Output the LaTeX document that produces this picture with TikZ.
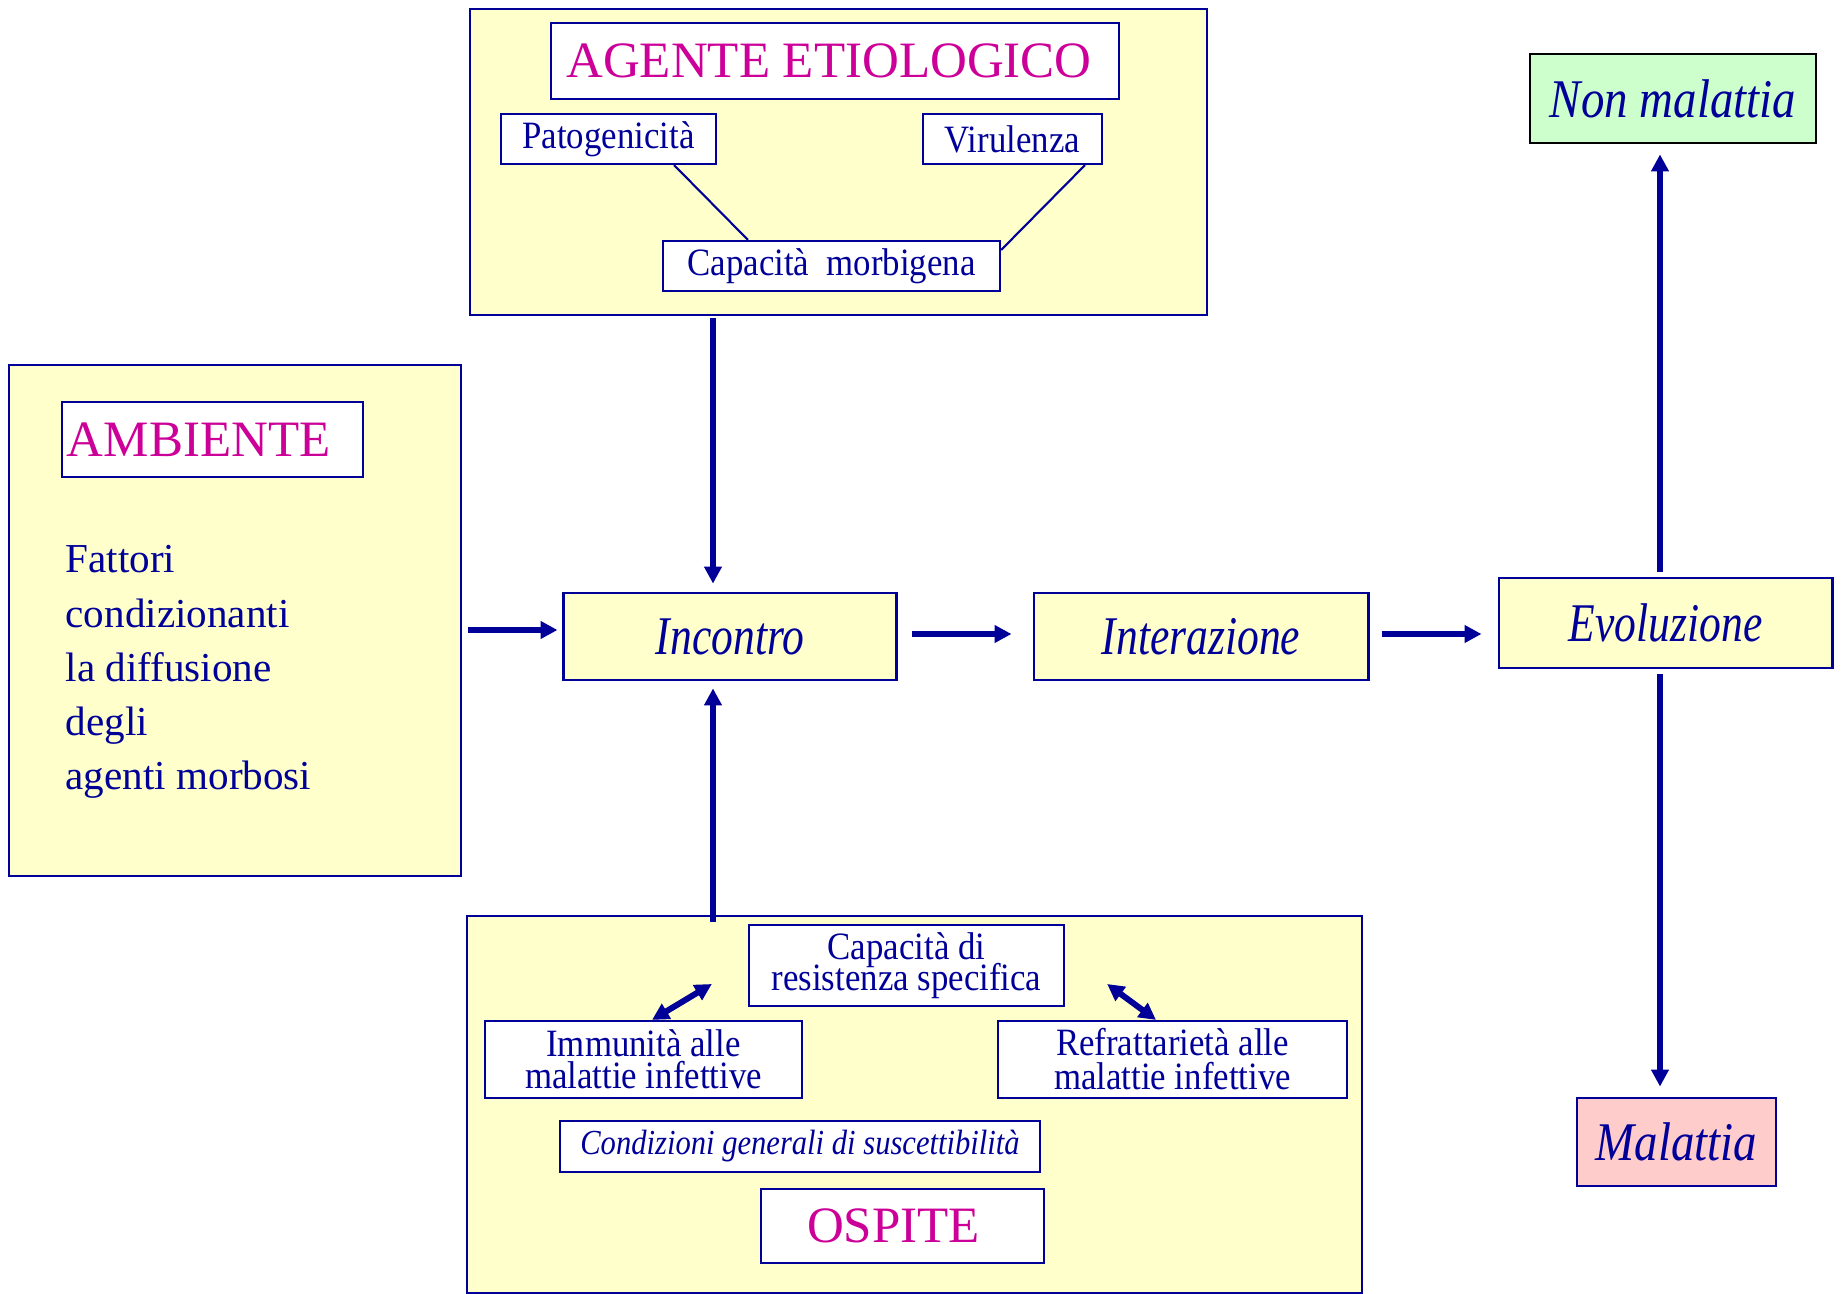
\documentclass[tikz,border=0pt]{standalone}
\usepackage{fontspec}
\setmainfont{Liberation Serif}
\usetikzlibrary{arrows.meta,calc}
\definecolor{navy}{RGB}{0,0,153}
\definecolor{magen}{RGB}{204,0,153}
\definecolor{pale}{RGB}{255,255,204}
\definecolor{mint}{RGB}{204,255,204}
\definecolor{rose}{RGB}{255,204,204}
\newcommand{\cnd}[2][0.9]{\scalebox{#1}[1]{#2}}
\newcommand{\tightls}{\lineskiplimit-20pt\relax}
\begin{document}
\begin{tikzpicture}[x=0.01cm,y=-0.01cm,
  panel/.style={draw=navy, fill=pale, line width=0.7pt, inner sep=0pt},
  wbox/.style={draw=navy, fill=white, line width=0.6pt, inner sep=0pt, text=navy},
  ybox/.style={draw=navy, fill=pale, line width=0.8pt, inner sep=0pt, text=navy},
  ttl/.style={text=magen, font=\fontsize{14.5}{17}\selectfont},
  sm/.style={font=\fontsize{11}{9}\selectfont\tightls},
  big/.style={font=\fontsize{15.5}{18}\selectfont\itshape},
  arr/.style={draw=navy, line width=1.7pt, -{Triangle[length=4.8pt,width=4.8pt]}},
  darr/.style={draw=navy, line width=1.7pt, {Triangle[length=4.8pt,width=4.8pt]}-{Triangle[length=4.8pt,width=4.8pt]}},
  thinln/.style={draw=navy, line width=0.6pt}
]
\useasboundingbox (0,0) rectangle (1841,1294);

% AGENTE ETIOLOGICO panel
\node[panel, minimum width=7.37cm, minimum height=3.06cm] (agentebg) at (838.5,162) {};
\node[wbox, ttl, minimum width=5.68cm, minimum height=0.76cm] (agtitle) at (835,61) {AGENTE ETIOLOGICO\hspace*{0.12cm}};
\node[wbox, sm, minimum width=2.15cm, minimum height=0.5cm] (pato) at (608.5,139) {\cnd{Patogenicità}};
\node[wbox, sm, minimum width=1.79cm, minimum height=0.5cm] (viru) at (1012.5,139) {\cnd{Virulenza}};
\node[wbox, sm, minimum width=3.37cm, minimum height=0.5cm] (morb) at (831.5,266) {\cnd{Capacità\ \ morbigena}};
\draw[thinln] ([xshift=0.655cm]pato.south) -- ([xshift=-0.835cm]morb.north);
\draw[thinln] ([xshift=0.725cm]viru.south) -- ([yshift=0.16cm]morb.east);

% AMBIENTE panel
\node[panel, minimum width=4.52cm, minimum height=5.11cm] (ambbg) at (235,620.5) {};
\node[wbox, ttl, minimum width=3.01cm, minimum height=0.75cm, text width=2.91cm, inner xsep=0.05cm, align=left] (ambtitle) at (212.5,439.5) {AMBIENTE};
\node[anchor=north west, inner sep=0pt, text=navy, align=left, font=\fontsize{11.7}{15.4}\selectfont] (fattori) at (65,545) {Fattori\\condizionanti\\la diffusione\\degli\\agenti morbosi};

% main chain
\node[ybox, big, minimum width=3.32cm, minimum height=0.87cm] (incontro) at (730,636.5) {\cnd[0.8]{Incontro}};
\node[ybox, big, minimum width=3.34cm, minimum height=0.87cm] (interaz) at (1201,636.5) {\cnd[0.8]{Interazione}};
\node[ybox, big, minimum width=3.33cm, minimum height=0.90cm] (evol) at (1665.5,623) {\cnd[0.8]{Evoluzione}};
\node[draw=black, fill=mint, line width=0.8pt, text=navy, inner sep=0pt, font=\fontsize{15.5}{18}\selectfont\itshape, minimum width=2.86cm, minimum height=0.89cm] (nonmal) at (1673,98.5) {\cnd[0.86]{Non malattia}};
\node[draw=navy, fill=rose, line width=0.8pt, text=navy, inner sep=0pt, font=\fontsize{15.5}{18}\selectfont\itshape, minimum width=1.99cm, minimum height=0.88cm] (malattia) at (1676.5,1142) {\cnd[0.86]{Malattia}};

% OSPITE panel
\node[panel, minimum width=8.95cm, minimum height=3.77cm] (ospbg) at (914.5,1104.5) {};
\node[wbox, sm, align=center, minimum width=3.15cm, minimum height=0.81cm] (resist) at (906.5,965.5) {\cnd{Capacità di}\\\cnd{resistenza specifica}};
\node[wbox, sm, align=center, minimum width=3.17cm, minimum height=0.77cm] (immun) at (643.5,1059.5) {\cnd{Immunità alle}\\\cnd{malattie infettive}};
\node[wbox, align=center, font=\fontsize{11}{9.7}\selectfont\tightls, minimum width=3.49cm, minimum height=0.77cm] (refr) at (1172.5,1059.5) {\cnd{Refrattarietà alle}\\\cnd{malattie infettive}};
\node[wbox, font=\fontsize{10}{12}\selectfont\itshape, minimum width=4.80cm, minimum height=0.51cm] (cond) at (800,1146.5) {\cnd[0.87]{Condizioni generali di suscettibilità}};
\node[wbox, ttl, minimum width=2.83cm, minimum height=0.74cm] (ospite) at (902.5,1226) {OSPITE\hspace*{0.18cm}};

% connectors
\draw[arr] ($(incontro.north |- agentebg.south)+(-17,2)$) -- ($(incontro.north)+(-17,-8)$);
\draw[arr] ($(incontro.south |- ospbg.north)+(-17,7)$) -- ($(incontro.south)+(-17,7)$);
\draw[arr] ($(ambbg.east |- incontro.west)+(6,-6.5)$) -- ($(incontro.west)+(-5,-6.5)$);
\draw[arr] ($(incontro.east)+(14,-2.5)$) -- ($(interaz.west)+(-21,-2.5)$);
\draw[arr] ($(interaz.east)+(12,-2.5)$) -- ($(evol.west |- interaz.west)+(-16,-2.5)$);
\draw[arr] ($(evol.north)+(-5.5,-5)$) -- ($(evol.north |- nonmal.south)+(-5.5,10)$);
\draw[arr] ($(evol.south)+(-5.5,5)$) -- ($(evol.south |- malattia.north)+(-5.5,-10)$);
\draw[darr] ($(immun.north)+(8.5,0)$) -- ($(resist.west)+(-36,18.5)$);
\draw[darr] ($(resist.east)+(42,18.5)$) -- ($(refr.north)+(-16.5,0)$);
\end{tikzpicture}
\end{document}
